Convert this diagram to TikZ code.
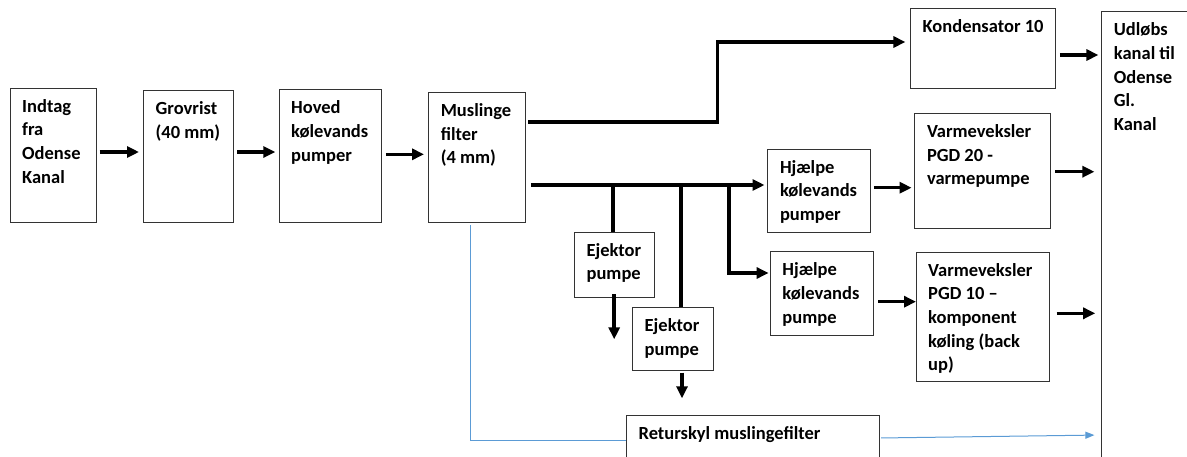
\documentclass[tikz,border=0pt]{standalone}
\usepackage{fontspec}
\setmainfont{Carlito}
\usetikzlibrary{arrows.meta,calc}
\newcommand{\boxlines}[1]{\begin{tabular}[t]{@{}l@{}}#1\end{tabular}}
\begin{document}
\begin{tikzpicture}[x=1pt,y=-1pt,
  blk/.style={draw=black!80,line width=1pt,inner sep=0pt,outer sep=0pt,anchor=north west},
  txt/.style={anchor=base west,inner sep=0pt,font=\fontsize{18.5}{23.7}\selectfont\bfseries},
  arr/.style={line width=3.5pt,-{Triangle[length=12pt,width=11pt]}},
  pipe/.style={line width=3.5pt},
  bluel/.style={draw={rgb,255:red,91;green,155;blue,213},line width=1pt},
  bluearr/.style={bluel,-{Triangle[length=9pt,width=7pt]}}]
\useasboundingbox (0,0) rectangle (1187,456);
\begin{scope}
\clip (0,0) rectangle (1187,456);
% boxes
\node[blk,minimum width=86pt,minimum height=134pt] (indtag) at (10,88) {};
\node[blk,minimum width=89.5pt,minimum height=131.3pt] (grov) at (143.5,90.7) {};
\node[blk,minimum width=102.6pt,minimum height=132.3pt] (hoved) at (279,89.7) {};
\node[blk,minimum width=96.9pt,minimum height=129.7pt] (musl) at (428.6,92.3) {};
\node[blk,minimum width=145pt,minimum height=80.7pt] (kond) at (910.4,8) {};
\node[blk,minimum width=110pt,minimum height=470pt] (udl) at (1101.7,11.7) {};
\node[blk,minimum width=135.2pt,minimum height=115.4pt] (pgd20) at (914.8,113.3) {};
\node[blk,minimum width=102.7pt,minimum height=83.3pt] (hj1) at (767.8,149) {};
\node[blk,minimum width=79.6pt,minimum height=65.7pt] (ej1) at (574.4,232) {};
\node[blk,minimum width=81.2pt,minimum height=62.7pt] (ej2) at (632.5,307.3) {};
\node[blk,minimum width=103.2pt,minimum height=83.3pt] (hj2) at (770.2,251.7) {};
\node[blk,minimum width=133.3pt,minimum height=129pt] (pgd10) at (916,252) {};
\node[blk,minimum width=252.6pt,minimum height=60pt] (retur) at (626.4,415.7) {};
% texts
\node[txt] (t1) at ($(indtag.north west)+(12,24)$) {\boxlines{Indtag\\fra\\Odense\\Kanal}};
\node[txt] (t2) at ($(grov.north west)+(12,24)$) {\boxlines{Grovrist\\(40 mm)}};
\node[txt] (t3) at ($(hoved.north west)+(12,24)$) {\boxlines{Hoved\\kølevands\\pumper}};
\node[txt] (t4) at ($(musl.north west)+(12,24)$) {\boxlines{Muslinge\\filter\\(4 mm)}};
\node[txt] (t5) at ($(kond.north west)+(12,24)$) {Kondensator 10};
\node[txt] (t6) at ($(udl.north west)+(12,24)$) {\boxlines{Udløbs\\kanal til\\Odense\\Gl.\\Kanal}};
\node[txt] (t7) at ($(pgd20.north west)+(12,24)$) {\boxlines{Varmeveksler\\PGD 20 -\\varmepumpe}};
\node[txt] (t8) at ($(hj1.north west)+(12,24)$) {\boxlines{Hjælpe\\kølevands\\pumper}};
\node[txt] (t9) at ($(ej1.north west)+(12,24)$) {\boxlines{Ejektor\\pumpe}};
\node[txt] (t10) at ($(ej2.north west)+(12,24)$) {\boxlines{Ejektor\\pumpe}};
\node[txt] (t11) at ($(hj2.north west)+(12,24)$) {\boxlines{Hjælpe\\kølevands\\pumpe}};
\node[txt] (t12) at ($(pgd10.north west)+(12,24)$) {\boxlines{Varmeveksler\\PGD 10 –\\komponent\\køling (back\\up)}};
\node[txt] (t13) at ($(retur.north west)+(12,24)$) {Returskyl muslingefilter};
% main chain
\draw[arr,shorten <=3.5pt,shorten >=4.5pt] (indtag.east |- 0,152) -- (grov.west |- 0,152);
\draw[arr,shorten <=4.3pt,shorten >=3.7pt] (grov.east |- 0,152) -- (hoved.west |- 0,152);
\draw[arr,shorten <=4.2pt,shorten >=4.6pt] (hoved.east |- 0,154.3) -- (musl.west |- 0,154.3);
% to kondensator
\coordinate (kbend) at (717.4,42);
\draw[arr,shorten <=2.5pt,shorten >=5pt] (musl.east |- 0,122) -| (kbend) -- (kond.west |- kbend);
% lower header
\draw[arr,shorten <=5.3pt,shorten >=3.3pt] (musl.east |- 0,185) -- (hj1.west |- 0,185);
\draw[pipe] (613,185) -- (ej1.north -| 613,0);
\draw[pipe] (681.2,185) -- (ej2.north -| 681.2,0);
\draw[arr,shorten >=1.6pt] (729.2,185) |- (hj2.west |- 0,273);
% ejector outlets
\draw[arr] ([yshift=3.7pt]ej1.south) -- ++(0,45.3);
\draw[arr,shorten <=2.7pt] (ej2.south -| 682,0) -- (682,398.3);
% to heat exchangers
\draw[arr,shorten <=3.3pt,shorten >=3.2pt] (hj1.east |- 0,187.7) -- (pgd20.west |- 0,187.7);
\draw[arr,shorten <=4.9pt] (hj2.east |- 0,301.7) -- (pgd10.west |- 0,301.7);
% to outlet
\draw[arr,shorten <=4.5pt,shorten >=3.3pt] (kond.east |- 0,55) -- (udl.west |- 0,55);
\draw[arr,shorten <=5pt,shorten >=7.3pt] (pgd20.east |- 0,171.7) -- (udl.west |- 0,171.7);
\draw[arr,shorten <=7.3pt,shorten >=6.5pt] (pgd10.east |- 0,313.3) -- (udl.west |- 0,313.3);
% backflush line
\draw[bluel] ([yshift=-3pt]musl.south -| 470,0) -- (470,440) -- (retur.west |- 0,440);
\draw[bluearr,shorten <=2pt,shorten >=7.3pt] (retur.east |- 0,438) -- (udl.west |- 0,435);
\end{scope}
\end{tikzpicture}
\end{document}
